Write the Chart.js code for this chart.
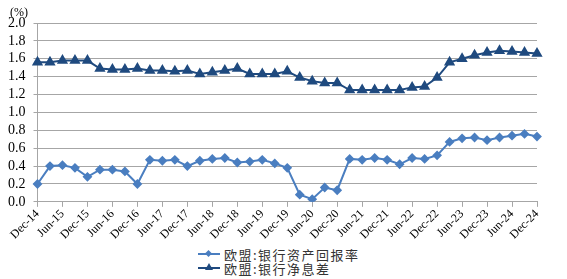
<!DOCTYPE html>
<html>
<head>
<meta charset="utf-8">
<script src="https://cdn.jsdelivr.net/npm/chart.js@4/dist/chart.umd.min.js"></script>
<style>
  html, body { margin: 0; padding: 0; background: #fff; }
  #wrap { position: relative; width: 567px; height: 279px; overflow: hidden; }
  #box { position: absolute; left: 0; top: 0; width: 567px; height: 242px; }
  #unit { position: absolute; left: 10px; top: 5px; font: 12px "Liberation Serif", serif; color: #000; }
  .leg { position: absolute; left: 198px; height: 14px; display: flex; align-items: center;
         font: 13px "Noto Sans CJK SC", sans-serif; letter-spacing: 1.5px; color: #333; }
  .leg .ln { position: relative; width: 22px; height: 2px; margin-right: 4px; }
  .leg .mk { position: absolute; }
</style>
</head>
<body>
<div id="wrap">
  <div id="box"><canvas id="c"></canvas></div>
  <div id="unit">(%)</div>
  <div class="leg" style="top:247px">
    <span class="ln" style="background:#4A7EC0"><span class="mk" style="top:-2px;left:8px;width:5px;height:5px;background:#4A7EC0;transform:rotate(45deg)"></span></span>
    <span id="l1"></span>
  </div>
  <div class="leg" style="top:261px">
    <span class="ln" style="background:#1F4A7F"><span class="mk" style="top:-4px;left:7px;width:0;height:0;border-left:4px solid transparent;border-right:4px solid transparent;border-bottom:7px solid #1F4A7F"></span></span>
    <span id="l2"></span>
  </div>
</div>
<script>
const categories = ["Dec-14","Mar-15","Jun-15","Sep-15","Dec-15","Mar-16","Jun-16","Sep-16","Dec-16","Mar-17","Jun-17","Sep-17","Dec-17","Mar-18","Jun-18","Sep-18","Dec-18","Mar-19","Jun-19","Sep-19","Dec-19","Mar-20","Jun-20","Sep-20","Dec-20","Mar-21","Jun-21","Sep-21","Dec-21","Mar-22","Jun-22","Sep-22","Dec-22","Mar-23","Jun-23","Sep-23","Dec-23","Mar-24","Jun-24","Sep-24","Dec-24"];
const seriesNames = ["欧盟:银行资产回报率", "欧盟:银行净息差"];
const roa = [0.20,0.40,0.41,0.38,0.28,0.36,0.36,0.34,0.20,0.47,0.46,0.47,0.40,0.46,0.48,0.49,0.44,0.45,0.47,0.43,0.38,0.08,0.03,0.16,0.13,0.48,0.47,0.49,0.47,0.42,0.49,0.48,0.52,0.67,0.71,0.72,0.69,0.72,0.74,0.76,0.73];
const nim = [1.56,1.56,1.58,1.58,1.58,1.49,1.48,1.48,1.49,1.47,1.47,1.46,1.47,1.43,1.45,1.47,1.49,1.43,1.43,1.43,1.46,1.39,1.35,1.33,1.33,1.25,1.25,1.25,1.25,1.25,1.28,1.29,1.39,1.56,1.60,1.64,1.67,1.69,1.68,1.67,1.66];
const yTicks = [0.0,0.2,0.4,0.6,0.8,1.0,1.2,1.4,1.6,1.8,2.0];

document.getElementById('l1').textContent = seriesNames[0];
document.getElementById('l2').textContent = seriesNames[1];

const grey = '#A6A6A6';
new Chart(document.getElementById('c'), {
  type: 'line',
  data: {
    labels: categories,
    datasets: [
      { label: seriesNames[0], data: roa, borderColor: '#4A7EC0', backgroundColor: '#4A7EC0',
        borderWidth: 2, pointStyle: 'rectRot', pointRadius: 3.5, pointHoverRadius: 3.5, tension: 0 },
      { label: seriesNames[1], data: nim, borderColor: '#1F4A7F', backgroundColor: '#1F4A7F',
        borderWidth: 2, pointStyle: 'triangle', pointRadius: 4.5, pointHoverRadius: 4.5, tension: 0 }
    ]
  },
  options: {
    responsive: true, maintainAspectRatio: false, animation: false,
    layout: { padding: { left: 0, right: 30, top: 23, bottom: 0 } },
    plugins: { legend: { display: false }, tooltip: { enabled: false } },
    scales: {
      x: {
        offset: false,
        grid: { display: true, drawOnChartArea: false, drawTicks: true, tickLength: 5, color: grey },
        border: { display: true, color: grey },
        ticks: {
          autoSkip: false, minRotation: 45, maxRotation: 45, padding: 0,
          font: { family: '"Liberation Serif", serif', size: 12 }, color: '#000',
          callback: function(v, i) { return i % 2 === 0 ? categories[i] : null; }
        }
      },
      y: {
        min: 0, max: 2,
        afterBuildTicks: function(s) { s.ticks = yTicks.map(v => ({ value: v })); },
        grid: { color: grey, tickLength: 4 },
        border: { display: true, color: grey },
        ticks: {
          autoSkip: false, padding: 8, font: { family: '"Liberation Serif", serif', size: 14 }, color: '#000',
          callback: function(v) { return Number(v).toFixed(1); }
        }
      }
    }
  }
});
</script>
</body>
</html>
